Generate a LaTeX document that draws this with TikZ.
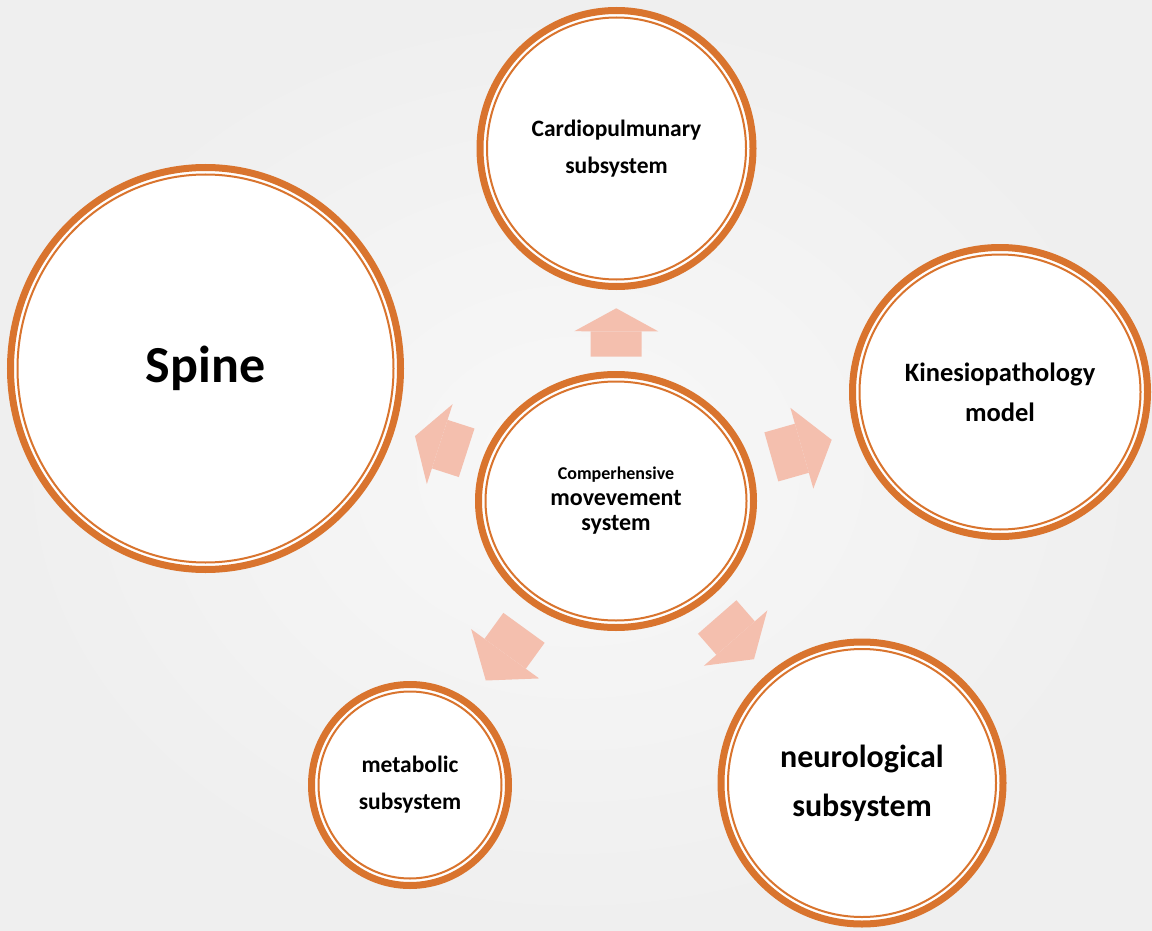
\documentclass[tikz,border=0pt]{standalone}
\usepackage{fontspec}
\setmainfont{Carlito}
\usetikzlibrary{shapes.geometric,arrows.meta,calc}

\definecolor{ringorange}{RGB}{217,116,46}
\definecolor{arrowpink}{RGB}{244,191,174}
\definecolor{bginner}{RGB}{248,248,248}
\definecolor{bgouter}{RGB}{239,239,239}

\tikzset{
    ring/.style 2 args={ellipse, draw=ringorange, line width=7pt, fill=white,
        inner sep=0pt, outer sep=0pt, minimum width=#1, minimum height=#2, align=center,
        path picture={\draw[ringorange, line width=2pt]
            let \p1=($(path picture bounding box.north east)-(path picture bounding box.center)$)
            in (path picture bounding box.center) ellipse ({\x1-7pt} and {\y1-7pt});}},
    flow/.style={draw=arrowpink, line width=51pt, -{Triangle[length=#1, width=84pt, line width=0pt]}},
    flow/.default=28pt
}

\begin{document}
\begin{tikzpicture}[x=1pt, y=-1pt]
    \fill[inner color=bginner, outer color=bgouter] (0,0) rectangle (1152,931);
    \useasboundingbox (0,0) rectangle (1152,931);

    \node (cms) [ring={275pt}{253pt}, font=\fontsize{24}{25.5}\selectfont\bfseries] at (616,501)
        {{\fontsize{18}{25.5}\selectfont Comperhensive}\\movevement\\system};
    \node (cardio) [ring={273pt}{276pt}, font=\fontsize{23.5}{37}\selectfont\bfseries] at (616.5,148.5)
        {Cardiopulmunary\\subsystem};
    \node (spine) [ring={390pt}{402pt}, font=\fontsize{52}{60}\selectfont\bfseries] at (205.5,368.5)
        {Spine};
    \node (kinesio) [ring={295pt}{289pt}, font=\fontsize{26.5}{40}\selectfont\bfseries] at (1000,392)
        {Kinesiopathology\\model};
    \node (metab) [ring={197pt}{201pt}, font=\fontsize{23.5}{37}\selectfont\bfseries] at (410,785)
        {metabolic\\subsystem};
    \node (neuro) [ring={282pt}{282pt}, font=\fontsize{32}{49}\selectfont\bfseries] at (862,783)
        {neurological\\subsystem};

    \draw [flow=23pt, shorten <=17.8pt, shorten >=21.8pt] (cms) -- (cardio);
    \draw [flow=26pt, shorten <=20.6pt, shorten >=24.6pt] (cms) -- (spine);
    \draw [flow=31pt, shorten <=24.9pt, shorten >=27.7pt] (cms) -- (kinesio);
    \draw [flow=33pt, shorten <=26.7pt, shorten >=29.3pt] (cms) -- (metab);
    \draw [flow=28pt, shorten <=23pt, shorten >=23.3pt] (cms) -- (neuro);
\end{tikzpicture}
\end{document}
